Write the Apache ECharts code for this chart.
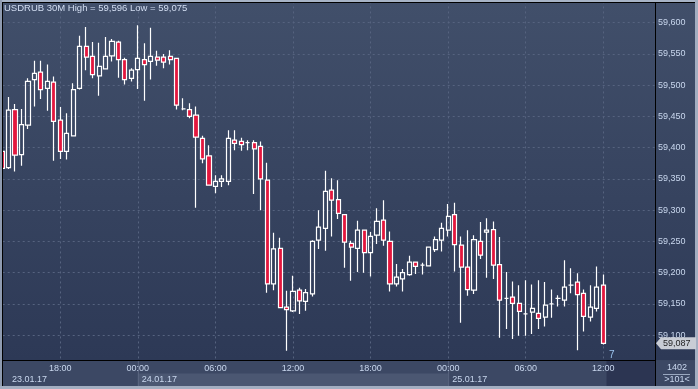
<!DOCTYPE html>
<html><head><meta charset="utf-8">
<script src="https://cdn.jsdelivr.net/npm/echarts@6/dist/echarts.min.js"></script>
<style>html,body{margin:0;padding:0;background:#3b4762;}#c{width:698px;height:389px;}</style>
</head><body><div id="c"></div>
<script>
// USDRUB 30M candles, 23.01.17 13:30 .. 25.01.17 12:00
const opens = [59.394,59.368,59.461,59.389,59.436,59.509,59.521,59.495,59.505,59.444,
59.394,59.419,59.495,59.562,59.546,59.515,59.526,59.547,59.569,59.541,
59.511,59.525,59.541,59.538,59.545,59.545,59.546,59.543,59.462,59.461,
59.452,59.415,59.387,59.338,59.346,59.346,59.412,59.410,59.408,59.408,
59.402,59.348,59.182,59.239,59.145,59.139,59.172,59.154,59.166,59.252,
59.271,59.332,59.317,59.293,59.247,59.239,59.268,59.232,59.260,59.284,
59.250,59.182,59.190,59.197,59.217,59.212,59.211,59.237,59.252,59.268,
59.293,59.244,59.209,59.172,59.250,59.265,59.269,59.213,59.159,59.161,
59.151,59.134,59.137,59.135,59.129,59.150,59.159,59.156,59.180,59.185,
59.167,59.129,59.143,59.180];
const closes = [59.367,59.460,59.388,59.437,59.506,59.519,59.493,59.506,59.442,59.394,
59.423,59.493,59.562,59.545,59.517,59.530,59.546,59.570,59.541,59.509,
59.524,59.543,59.533,59.546,59.540,59.537,59.541,59.468,59.462,59.450,
59.417,59.382,59.340,59.346,59.350,59.415,59.407,59.405,59.408,59.398,
59.350,59.182,59.238,59.144,59.141,59.170,59.155,59.168,59.250,59.273,
59.330,59.316,59.295,59.249,59.241,59.268,59.232,59.258,59.282,59.252,
59.182,59.193,59.200,59.217,59.210,59.212,59.241,59.253,59.271,59.290,
59.245,59.209,59.173,59.253,59.228,59.268,59.212,59.156,59.159,59.151,
59.138,59.134,59.143,59.127,59.148,59.150,59.159,59.177,59.180,59.165,
59.130,59.145,59.177,59.087];
const highs = [59.398,59.481,59.470,59.462,59.511,59.539,59.539,59.533,59.514,59.465,
59.455,59.503,59.579,59.593,59.569,59.568,59.577,59.574,59.571,59.544,
59.527,59.596,59.567,59.592,59.555,59.550,59.556,59.543,59.479,59.471,
59.466,59.419,59.404,59.356,59.356,59.428,59.428,59.416,59.412,59.412,
59.410,59.376,59.264,59.256,59.171,59.195,59.176,59.174,59.252,59.300,
59.363,59.351,59.348,59.294,59.251,59.283,59.268,59.265,59.303,59.316,
59.266,59.214,59.206,59.227,59.217,59.216,59.242,59.258,59.280,59.310,
59.312,59.258,59.268,59.260,59.281,59.287,59.282,59.257,59.201,59.186,
59.180,59.188,59.181,59.188,59.185,59.173,59.164,59.220,59.207,59.199,
59.173,59.180,59.210,59.197];
const lows = [59.362,59.366,59.362,59.371,59.430,59.466,59.478,59.459,59.379,59.382,
59.381,59.418,59.493,59.524,59.511,59.483,59.525,59.538,59.512,59.501,
59.506,59.494,59.475,59.509,59.531,59.527,59.533,59.461,59.460,59.447,
59.304,59.375,59.339,59.327,59.337,59.340,59.396,59.395,59.396,59.326,
59.300,59.168,59.172,59.144,59.075,59.137,59.134,59.139,59.162,59.238,
59.235,59.258,59.286,59.208,59.187,59.201,59.200,59.194,59.246,59.243,
59.170,59.178,59.170,59.195,59.198,59.197,59.210,59.233,59.234,59.258,
59.202,59.120,59.163,59.166,59.222,59.192,59.190,59.096,59.110,59.094,
59.099,59.099,59.102,59.110,59.114,59.128,59.146,59.146,59.167,59.076,
59.106,59.122,59.138,59.085];
// x position: half-hour steps counted from 23.01.17 12:00
const firstSlot = 3;
const timeLabels = ['12:00','18:00','00:00','06:00','12:00','18:00','00:00','06:00','12:00'];
const dayLabels = ['23.01.17','24.01.17','25.01.17'];
const daySlots = [0, 24, 72];
const titleText = 'USDRUB 30M High = 59,596 Low = 59,075';
const lastPriceText = '59,087';

const FONT = '"Liberation Sans", Arial, sans-serif';
const LBL = '#c9d7ee';
const chart = echarts.init(document.getElementById('c'), null, {renderer:'canvas'});
const candleData = opens.map((o, i) => [i + firstSlot, o, closes[i], lows[i], highs[i]]);
const fmtPrice = v => v.toFixed(3).replace('.', ',');
const hiddenAxis = {axisLine: {show: false}, axisTick: {show: false}, splitLine: {show: false}};

chart.setOption({
  animation: false,
  backgroundColor: '#3b4762',
  grid: {left: -17.29, right: 43, top: -8.55, bottom: 22.55, containLabel: false, outerBoundsMode: 'none'},
  xAxis: [{
    type: 'value', min: 0, max: 104, interval: 12,
    axisLine: {show: false}, axisTick: {show: false}, axisLabel: {show: false},
    splitLine: {show: true, lineStyle: {color: '#56637f', type: [2, 3], width: 1}}
  }, Object.assign({
    type: 'value', min: 0, max: 104, interval: 12, position: 'bottom', z: 200,
    axisLabel: {show: true, color: LBL, fontSize: 9, fontFamily: FONT, margin: 2, verticalAlign: 'middle',
      showMinLabel: false, showMaxLabel: false,
      formatter: v => (v % 12 === 0 && v > 0 && v < 104) ? timeLabels[v / 12] : ''}
  }, hiddenAxis), Object.assign({
    type: 'value', min: 0, max: 104, interval: 24, position: 'bottom', z: 200,
    axisLabel: {show: true, color: LBL, fontSize: 9, fontFamily: FONT, margin: 13, verticalAlign: 'middle', align: 'left',
      showMinLabel: true, showMaxLabel: false,
      formatter: v => { const k = daySlots.indexOf(v); if (k < 0) return ''; return (k === 0 ? '{p|' : '{q|') + dayLabels[k] + '}'; },
      rich: {p: {padding: [0, 0, 0, 29.3], color: LBL, fontSize: 9, fontFamily: FONT},
             q: {padding: [0, 0, 0, 4], color: LBL, fontSize: 9, fontFamily: FONT}}}
  }, hiddenAxis)],
  yAxis: {
    type: 'value', position: 'right', min: 59.05, max: 59.65, interval: 0.05,
    axisLine: {show: false}, axisTick: {show: false},
    splitLine: {show: true, lineStyle: {color: '#56637f', type: [2, 3], width: 1}},
    axisLabel: {margin: 3, color: LBL, fontSize: 9, fontFamily: FONT, verticalAlign: 'middle',
      formatter: v => (v > 59.06 && v < 59.64) ? fmtPrice(v) : ''}
  },
  series: [{
    type: 'candlestick', data: candleData, barWidth: 4.6, z: 5, xAxisIndex: 0,
    itemStyle: {color: 'transparent', color0: '#e3173e', borderColor: '#ffffff', borderColor0: '#ffffff',
      borderColorDoji: '#ffffff', borderWidth: 1.2}
  }]
});

const px = v => chart.convertToPixel({xAxisIndex: 0}, v);
const py = v => chart.convertToPixel({yAxisIndex: 0}, v);
const lastY = py(closes[closes.length - 1]);
const d1 = px(daySlots[1]), d2 = px(daySlots[2]);

chart.setOption({
  graphic: [
    {type: 'rect', z: -100, shape: {x: 0, y: 0, width: 698, height: 389}, style: {fill: '#3b4762'}},
    {type: 'rect', z: -90, shape: {x: 3, y: 3, width: 692, height: 357},
      style: {fill: new echarts.graphic.LinearGradient(0, 0, 0, 1, [{offset: 0, color: '#414f6a'}, {offset: 1, color: '#2d3956'}])}},
    // bottom panel
    {type: 'rect', z: 100, shape: {x: 3, y: 361, width: 692, height: 25}, style: {fill: '#3c4864'}},
    {type: 'rect', z: 101, shape: {x: d1, y: 373.5, width: d2 - d1, height: 12.5}, style: {fill: '#4b5772'}},
    {type: 'rect', z: 101, shape: {x: d1, y: 361, width: 1, height: 25}, style: {fill: '#5b6782'}},
    {type: 'rect', z: 101, shape: {x: d2, y: 361, width: 1, height: 25}, style: {fill: '#5b6782'}},
    {type: 'rect', z: 101, shape: {x: 606.5, y: 361, width: 48.5, height: 25}, style: {fill: '#2c3552'}},
    // separators
    {type: 'rect', z: 102, shape: {x: 3, y: 360, width: 652, height: 1}, style: {fill: '#000'}},
    {type: 'rect', z: 102, shape: {x: 655, y: 3, width: 1, height: 383}, style: {fill: '#000'}},
    // frame
    {type: 'rect', z: 110, shape: {x: 0, y: 0, width: 698, height: 2}, style: {fill: '#a7b3c6'}},
    {type: 'rect', z: 110, shape: {x: 2, y: 2, width: 694, height: 1}, style: {fill: '#000'}},
    {type: 'rect', z: 110, shape: {x: 0, y: 0, width: 2, height: 389}, style: {fill: '#8f9bb0'}},
    {type: 'rect', z: 110, shape: {x: 2, y: 2, width: 1, height: 384}, style: {fill: '#000'}},
    {type: 'rect', z: 110, shape: {x: 0, y: 386, width: 698, height: 3}, style: {fill: '#a3aec1'}},
    {type: 'rect', z: 110, shape: {x: 695, y: 0, width: 3, height: 389}, style: {fill: '#a3aec1'}},
    // title
    {type: 'text', z: 120, x: 4, y: 8, style: {text: titleText, fill: '#d3def2', fontSize: 9.5, fontFamily: FONT, verticalAlign: 'middle'}},
    // price tag
    {type: 'polygon', z: 120, shape: {points: [[656, lastY], [661, lastY - 6], [696, lastY - 6], [696, lastY + 6], [661, lastY + 6]]},
      style: {fill: '#c9cdd5'}},
    {type: 'text', z: 121, x: 663, y: lastY, style: {text: lastPriceText, fill: '#1e1e1e', fontSize: 9, fontFamily: FONT, verticalAlign: 'middle'}},
    {type: 'text', z: 121, x: 609, y: 355, style: {text: '7', fill: '#9cc4ee', fontSize: 10, fontFamily: FONT, verticalAlign: 'middle'}},
    // right bottom info
    {type: 'text', z: 121, x: 677, y: 368, style: {text: '1402', fill: LBL, fontSize: 9, fontFamily: FONT, align: 'center', verticalAlign: 'middle'}},
    {type: 'rect', z: 121, shape: {x: 663, y: 374, width: 27, height: 1}, style: {fill: '#9aa8bf'}},
    {type: 'text', z: 121, x: 677, y: 380, style: {text: '>101<', fill: LBL, fontSize: 9, fontFamily: FONT, align: 'center', verticalAlign: 'middle'}}
  ]
});
</script></body></html>
